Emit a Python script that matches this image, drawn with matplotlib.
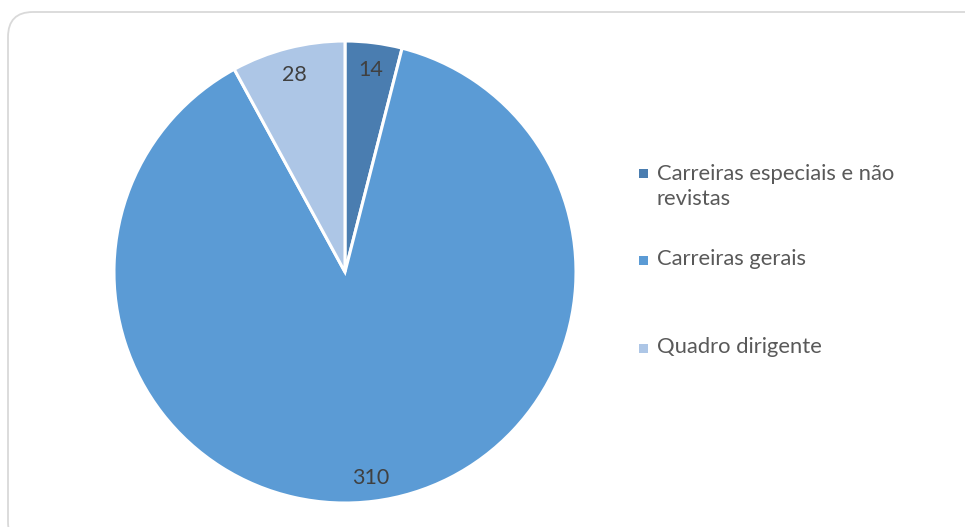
import matplotlib.pyplot as plt
from matplotlib.patches import FancyBboxPatch, Rectangle

# Pessoal por carreira
categorias = ["Carreiras especiais e não\nrevistas", "Carreiras gerais", "Quadro dirigente"]
valores = [14, 310, 28]
cores = ["#4a7db0", "#5b9bd5", "#adc6e6"]

plt.rcParams['font.family'] = ['Lato', 'DejaVu Sans']
texto_cor = "#595959"

fig = plt.figure(figsize=(9.65, 5.27), dpi=100)

# moldura arredondada do gráfico
moldura = FancyBboxPatch((8, -20), 1000, 535, boxstyle="round,pad=0,rounding_size=25",
                         transform=None, facecolor="none", edgecolor="#d9d9d9",
                         linewidth=1.3, zorder=-1)
fig.patches.append(moldura)

ax = fig.add_axes([0.1181, 0.0455, 0.4788, 0.8767])
total = sum(valores)
wedges, textos, autotextos = ax.pie(
    valores, colors=cores, startangle=90, counterclock=False,
    autopct=lambda p: "%d" % round(p * total / 100), pctdistance=0.89,
    wedgeprops=dict(edgecolor="white", linewidth=2.2),
    textprops=dict(color="#404040", fontsize=15.5))
for t in autotextos:
    t.set_verticalalignment("center_baseline")
ax.set_xlim(-1, 1)
ax.set_ylim(-1, 1)
ax.set_aspect("equal")

# legenda à direita
marcas_y = [173, 260, 348]
textos_y = [187.5, 260, 348]
for nome, cor, ym, yt in zip(categorias, cores, marcas_y, textos_y):
    fig.patches.append(Rectangle((639, 527 - ym - 5), 9, 9, transform=None,
                                 facecolor=cor, edgecolor="none"))
    fig.text(657 / 965, 1 - (yt - 1) / 527, nome, color=texto_cor, fontsize=15.8,
             va="center", ha="left", linespacing=1.3)

fig.savefig("out.png", dpi=100)
